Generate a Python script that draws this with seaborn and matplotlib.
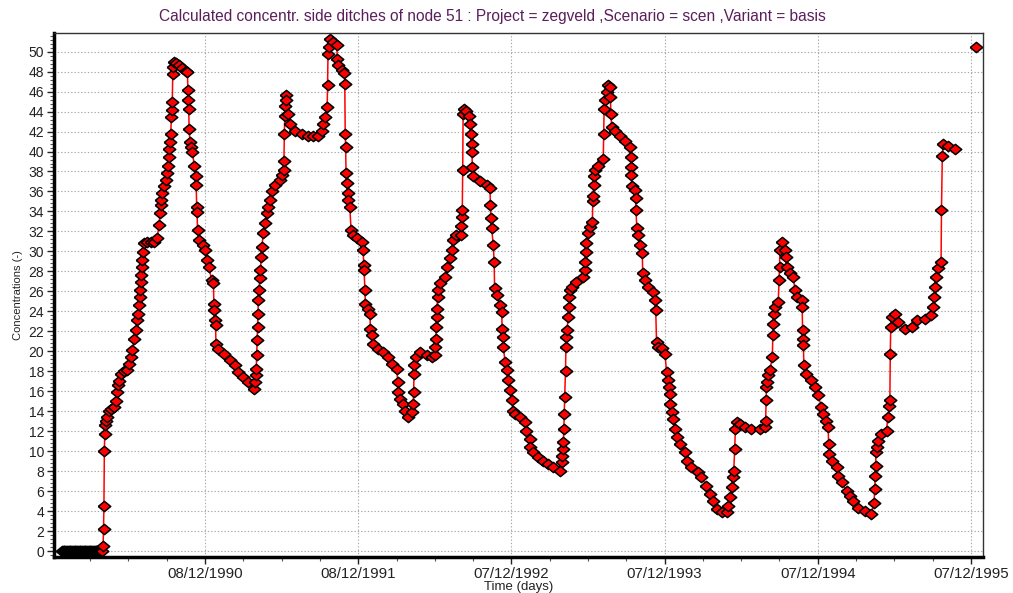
import matplotlib
matplotlib.use("Agg")
import matplotlib.pyplot as plt
import matplotlib.dates as mdates
import matplotlib.ticker as mticker
import numpy as np
import pandas as pd
import seaborn as sns

# concentration series, days counted from the start date
start_date = "1990-01-01"
days = [
    0, 2, 4, 6, 8, 10, 12, 14, 16, 18, 20, 22, 24, 26, 28, 30, 32, 34, 36,
    38, 40, 42, 44, 46, 48, 50, 52, 54, 56, 58, 60, 62, 64, 66, 68, 70, 72,
    74, 76, 78, 80, 82, 84, 86, 88, 90, 92, 94,
    96, 98, 99, 100, 101, 102, 103, 104, 108, 112, 116, 124, 128, 132, 134,
    137, 140, 148, 156, 160, 164, 168, 172, 176, 180, 182, 184, 185, 187, 188,
    189, 190, 191, 192, 196, 203, 211, 219, 227, 231, 234, 235, 237, 239, 243,
    247, 250, 252, 254, 256, 257, 259, 261, 262, 263, 264, 265, 267, 271, 279,
    287, 295, 299, 300, 301, 302, 303, 305, 307, 311, 315, 319, 320, 321, 322,
    323, 327, 335, 342, 346, 350,
    357, 361, 362, 363, 365, 366, 367, 373, 385, 400, 412, 420, 432, 444, 458,
    460, 462, 463, 464, 465, 466, 467, 468, 469, 472, 473, 475, 476, 480, 484,
    488, 492, 496, 500, 508, 520, 525, 528, 529, 530, 531, 532, 533, 535, 539,
    543, 555, 571, 587, 599, 611, 619, 623, 628, 632, 633, 634, 636, 639, 647,
    655, 656, 659, 667, 673, 674, 675, 676, 677, 679, 681, 682, 686, 689, 694,
    704,
    714, 718, 719, 720, 722, 723, 730, 734, 735, 738, 742, 754, 766, 778, 786,
    798, 800, 802, 805, 813, 817, 825, 833, 837, 838, 839, 840, 843, 853, 869,
    881, 889, 890, 891, 892, 893, 894, 895, 897, 901, 913, 917, 925, 929, 933,
    940, 951, 952, 953, 954, 955, 956, 959, 964, 970, 972, 975, 976, 977, 978,
    980, 996, 1012, 1020, 1021, 1022, 1024, 1028, 1030, 1031, 1036, 1044, 1048,
    1049, 1050, 1052, 1056, 1060, 1064, 1068, 1072, 1076,
    1080, 1091, 1103, 1107, 1115, 1116, 1123, 1135, 1147, 1159, 1171, 1187,
    1191, 1192, 1194, 1195, 1196, 1197, 1198, 1200, 1201, 1202, 1203, 1207,
    1208, 1209, 1211, 1215, 1226, 1242, 1246, 1247, 1248, 1250, 1254, 1258,
    1264, 1265, 1266, 1267, 1269, 1270, 1278, 1290, 1291, 1292, 1294, 1298,
    1302, 1306, 1307, 1308, 1310, 1318, 1330, 1342, 1354, 1355, 1356, 1357,
    1358, 1366, 1367, 1368, 1370, 1373, 1377, 1383, 1384, 1389, 1397, 1409,
    1413, 1415, 1417, 1421, 1429, 1437,
    1441, 1445, 1447, 1449, 1450, 1453, 1457, 1461, 1465, 1473, 1485, 1489,
    1500, 1516, 1524, 1536, 1544, 1552, 1560, 1572, 1584, 1588, 1592, 1596,
    1598, 1601, 1603, 1605, 1608, 1616, 1628, 1643, 1663, 1675, 1677, 1678,
    1679, 1681, 1683, 1687, 1693, 1694, 1695, 1696, 1699, 1707, 1709, 1710,
    1711, 1715, 1723, 1725, 1727, 1735, 1743, 1747, 1751, 1763, 1764, 1765,
    1766, 1767, 1768, 1774, 1786, 1794, 1802,
    1810, 1814, 1822, 1826, 1827, 1828, 1834, 1846, 1850, 1858, 1870, 1878,
    1886, 1898, 1914, 1929, 1935, 1937, 1938, 1939, 1940, 1942, 1945, 1953,
    1965, 1968, 1972, 1973, 1974, 1975, 1977, 1985, 1993, 2009, 2025, 2037,
    2057, 2072, 2076, 2079, 2080, 2082, 2087, 2095, 2096, 2098, 2100, 2112,
    2128,
]
conc = [
    0.0, 0.0, 0.0, 0.0, 0.0, 0.0, 0.0, 0.0, 0.0, 0.0, 0.0, 0.0, 0.0, 0.0,
    0.0, 0.0, 0.0, 0.0, 0.0, 0.0, 0.0, 0.0, 0.0, 0.0, 0.0, 0.0, 0.0, 0.0,
    0.0, 0.0, 0.0, 0.0, 0.0, 0.0, 0.0, 0.0, 0.0, 0.0, 0.0, 0.0, 0.0, 0.0,
    0.0, 0.0, 0.0, 0.0, 0.0, 0.0,
    0.0, 0.5, 2.2, 4.5, 10.0, 11.7, 12.6, 13.0, 13.4, 14.0, 14.2, 14.4, 15.0,
    15.9, 16.6, 17.0, 17.7, 18.0, 18.1, 18.7, 19.4, 20.1, 21.2, 22.1, 23.1,
    23.7, 24.6, 25.4, 26.1, 26.9, 27.6, 28.4, 29.1, 29.9, 30.8, 30.9, 30.9,
    30.9, 31.3, 32.6, 33.8, 34.6, 35.1, 35.8, 36.5, 37.1, 37.8, 38.6, 39.5,
    40.3, 41.0, 41.8, 43.5, 44.2, 45.0, 47.8, 48.5, 49.0, 48.9, 48.7, 48.4,
    48.1, 48.0, 46.2, 45.2, 44.3, 42.3, 41.0, 40.5, 40.0, 38.6, 37.5, 36.6,
    34.4, 33.9, 32.1, 31.1, 30.6, 30.1, 29.1, 28.4,
    27.1, 26.8, 24.7, 24.1, 23.1, 22.6, 20.7, 20.2, 19.7, 19.1, 18.6, 17.9,
    17.4, 16.9, 16.2, 16.9, 17.6, 18.2, 19.6, 21.1, 22.4, 23.7, 25.1, 26.1,
    27.3, 28.1, 29.4, 30.4, 31.8, 32.8, 33.8, 34.4, 35.1, 36.0, 36.6, 37.1,
    37.6, 38.1, 39.1, 41.8, 43.6, 44.6, 45.7, 45.2, 43.8, 42.8, 42.1, 41.8,
    41.6, 41.6, 41.6, 42.1, 42.8, 43.5, 44.5, 46.7, 49.8, 50.5, 51.3, 51.0,
    50.7, 49.3, 48.7, 48.2, 47.9, 46.8, 41.8, 40.5, 37.8, 36.8, 35.8, 35.1,
    34.4, 32.1, 31.6, 31.3,
    30.9, 30.1, 28.6, 28.1, 26.1, 24.7, 24.2, 23.7, 22.2, 21.6, 20.7, 20.2,
    19.9, 19.4, 18.7, 18.2, 16.9, 15.9, 15.2, 14.7, 14.0, 13.4, 13.9, 14.7,
    15.9, 17.7, 18.6, 19.4, 19.9, 19.6, 19.4, 19.6, 20.4, 21.2, 22.4, 23.4,
    24.2, 25.4, 26.1, 26.8, 27.4, 28.4, 29.3, 30.1, 31.1, 31.6, 31.6, 32.5,
    33.4, 34.1, 38.1, 43.8, 44.3, 44.1, 43.6, 42.8, 41.8, 40.8, 40.0, 38.5,
    37.5, 37.0, 36.6, 36.3, 34.6, 33.3, 32.3, 30.6, 28.9, 26.3, 25.6, 24.6,
    23.9, 22.2, 21.4, 20.4, 18.9, 18.1, 17.1, 16.1, 15.1, 14.0,
    13.7, 13.4, 12.9, 12.0, 11.2, 10.4, 9.9, 9.4, 9.0, 8.7, 8.4, 8.0, 8.9,
    9.5, 10.2, 10.9, 12.2, 13.7, 15.4, 18.0, 20.4, 21.4, 22.1, 23.4, 24.4,
    25.4, 26.1, 26.4, 26.9, 27.4, 28.1, 28.9, 29.9, 30.8, 31.8, 32.4, 32.9,
    35.0, 35.5, 36.6, 37.5, 38.1, 38.6, 39.3, 41.8, 44.3, 45.2, 46.0, 46.7,
    46.5, 45.5, 43.8, 42.5, 42.1, 41.6, 41.1, 40.5, 39.5, 38.5, 37.6, 36.5,
    36.1, 35.3, 34.1, 32.3, 31.6, 30.6, 29.8, 27.8, 27.1, 26.4, 25.9, 25.1,
    24.1, 20.9, 20.4, 20.3, 19.7,
    17.9, 17.1, 16.4, 15.7, 14.7, 13.9, 13.2, 12.2, 11.4, 10.7, 9.9, 9.0,
    8.4, 7.9, 7.4, 6.5, 5.7, 5.0, 4.2, 3.9, 3.9, 4.5, 5.4, 6.4, 7.4, 8.0,
    10.2, 12.2, 12.9, 12.7, 12.4, 12.2, 12.2, 12.4, 13.0, 15.1, 16.4, 16.9,
    17.6, 18.1, 19.4, 21.6, 22.7, 23.7, 24.4, 24.9, 27.1, 28.4, 30.1, 30.9,
    30.1, 29.4, 28.4, 27.8, 27.4, 26.1, 25.4, 25.1, 24.4, 22.1, 21.2, 20.6,
    18.6, 17.7, 17.1, 16.4, 15.6,
    14.4, 13.7, 13.0, 12.4, 10.7, 9.7, 9.0, 8.4, 7.5, 6.9, 6.0, 5.5, 5.0,
    4.3, 4.0, 3.7, 4.8, 6.2, 7.5, 8.5, 9.9, 10.4, 11.0, 11.7, 12.0, 13.4,
    14.5, 15.1, 19.7, 22.4, 23.4, 23.7, 22.9, 22.2, 22.4, 23.1, 23.2, 23.6,
    24.4, 25.4, 26.4, 27.4, 28.3, 28.9, 34.1, 39.6, 40.8, 40.6, 40.3,
]
# one value stands apart at the very end (no line to it)
last_day = [2178]
last_conc = [50.5]

tick_dates = ["1990-12-08", "1991-12-08", "1992-12-07",
              "1993-12-07", "1994-12-07", "1995-12-07"]
x_range = ["1989-12-13", "1996-01-05"]

title = ("Calculated concentr. side ditches of node 51 : Project = zegveld "
         ",Scenario = scen ,Variant = basis")

sns.set_style("ticks")
plt.rcParams["font.family"] = ["Liberation Sans", "DejaVu Sans"]

start = pd.Timestamp(start_date)
df = pd.DataFrame({
    "date": start + pd.to_timedelta(days + last_day, unit="D"),
    "conc": conc + last_conc,
    "part": [0] * len(days) + [1] * len(last_day),
})

fig = plt.figure(figsize=(10.13, 5.93), dpi=100)
ax = fig.add_axes([0.0533, 0.0607, 0.9171, 0.8837])

# squat diamond marker like the original
diamond = [(-1.0, 0.0), (0.0, 0.82), (1.0, 0.0), (0.0, -0.82), (-1.0, 0.0)]
sns.lineplot(data=df, x="date", y="conc", units="part", estimator=None,
             color="#ff0000", linewidth=1.1, marker=diamond, markersize=9,
             markerfacecolor="#ff0000", markeredgecolor="black",
             markeredgewidth=1.1, legend=False, ax=ax)

ax.set_xlim(pd.Timestamp(x_range[0]), pd.Timestamp(x_range[1]))
ax.set_ylim(-0.6, 51.87)

major = mdates.date2num(pd.to_datetime(tick_dates))
ax.xaxis.set_major_locator(mticker.FixedLocator(major))
ax.xaxis.set_minor_locator(
    mticker.FixedLocator(np.arange(major[0] - 4 * 91.25, major[-1] + 1, 91.25)))
ax.xaxis.set_major_formatter(mdates.DateFormatter("%d/%m/%Y"))
ax.yaxis.set_major_locator(mticker.MultipleLocator(2))
ax.yaxis.set_minor_locator(mticker.MultipleLocator(0.4))

ax.grid(True, which="major", linestyle=(0, (1.2, 1.8)), color="#a8a8a8",
        linewidth=0.8)
ax.set_axisbelow(True)

ax.tick_params(axis="both", which="major", direction="out", length=5,
               width=1, colors="#222222", pad=2)
ax.tick_params(axis="x", which="major", labelsize=10.8)
ax.tick_params(axis="y", which="major", labelsize=10)
ax.tick_params(axis="both", which="minor", direction="out", length=3,
               width=0.8, colors="#555555")

for side in ["left", "bottom"]:
    ax.spines[side].set_linewidth(2.5)
    ax.spines[side].set_color("black")
for side in ["top", "right"]:
    ax.spines[side].set_visible(True)
    ax.spines[side].set_linewidth(1)
    ax.spines[side].set_color("#333333")

ax.set_xlabel("Time (days)", fontsize=9.5, color="#222222", labelpad=0)
ax.set_ylabel("Concentrations (-)", fontsize=8, color="#222222", labelpad=4)
fig.text(0.486, 1 - 17 / 593, title, ha="center", va="center",
         fontsize=11.2, color="#5b1e5b")

fig.savefig("out.png", dpi=100)
